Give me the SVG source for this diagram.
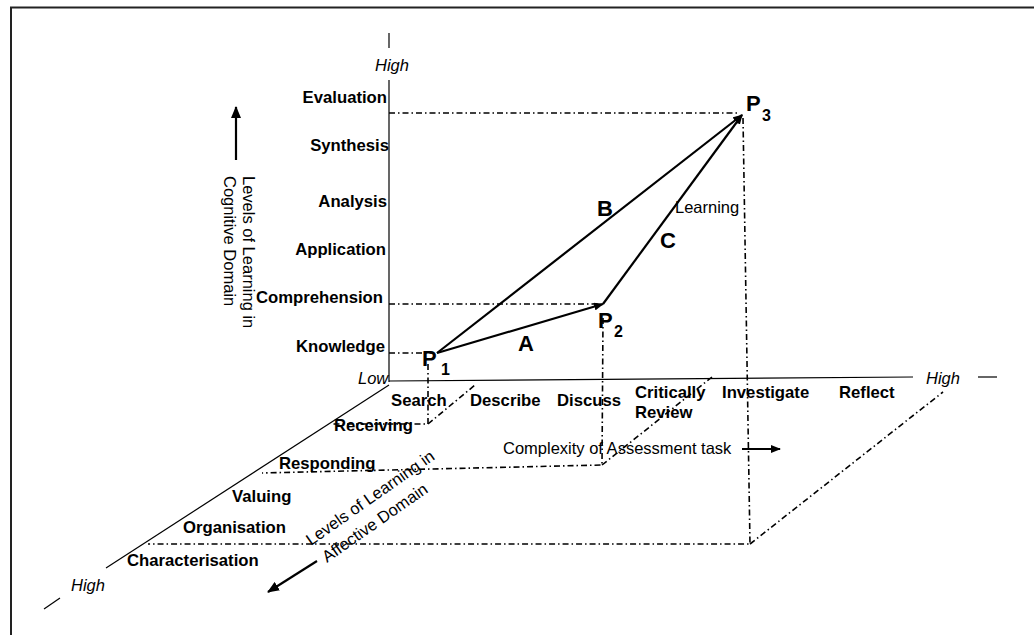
<svg xmlns="http://www.w3.org/2000/svg" width="1034" height="635" viewBox="0 0 1034 635">
<style>
.b{font-family:"Liberation Sans",Arial,sans-serif;font-weight:bold;font-size:16.7px;fill:#000}
.r{font-family:"Liberation Sans",Arial,sans-serif;font-size:16.5px;fill:#000}
.i{font-family:"Liberation Sans",Arial,sans-serif;font-style:italic;font-size:16.5px;fill:#000}
.p{font-family:"Liberation Sans",Arial,sans-serif;font-weight:bold;font-size:22px;fill:#000}
.s{font-family:"Liberation Sans",Arial,sans-serif;font-weight:bold;font-size:16px;fill:#000}
.ax{stroke:#000;stroke-width:1.2;fill:none}
.dd{stroke:#000;stroke-width:1.6;fill:none;stroke-dasharray:6 3 1.5 3}
.ar{stroke:#000;stroke-width:2.2;fill:none}
</style>
<defs>
<marker id="ah" markerWidth="10" markerHeight="8" refX="9" refY="4" orient="auto" markerUnits="userSpaceOnUse">
<path d="M0,0 L10,4 L0,8 Z" fill="#000"/>
</marker>
<marker id="ah2" markerWidth="12" markerHeight="10" refX="11" refY="5" orient="auto" markerUnits="userSpaceOnUse">
<path d="M0,0 L12,5 L0,10 Z" fill="#000"/>
</marker>
</defs>
<rect width="1034" height="635" fill="#fff"/>
<!-- frame -->
<path d="M11,635 L11,7.5 L1034,7.5" stroke="#222" stroke-width="2" fill="none"/>

<g id="axes">
<line class="ax" x1="389" y1="33" x2="389" y2="48"/>
<line class="ax" x1="389" y1="80" x2="389" y2="382"/>
<line class="ax" x1="389" y1="381" x2="913" y2="377"/>
<line class="ax" x1="978" y1="377" x2="997" y2="377"/>
<line class="ax" x1="389" y1="385" x2="106" y2="568"/>
<line class="ax" x1="60" y1="598" x2="44" y2="609"/>
<text class="i" x="375" y="71">High</text>
<text class="i" x="358" y="384">Low</text>
<text class="i" x="926" y="384">High</text>
<text class="i" x="71" y="591">High</text>
</g>

<g id="cognitive-labels" text-anchor="end">
<text class="b" x="387" y="103">Evaluation</text>
<text class="b" x="389" y="151">Synthesis</text>
<text class="b" x="387" y="207">Analysis</text>
<text class="b" x="386" y="255">Application</text>
<text class="b" x="383" y="303">Comprehension</text>
<text class="b" x="385" y="352">Knowledge</text>
</g>

<g id="cognitive-title">
<line x1="236" y1="160" x2="236" y2="107" stroke="#000" stroke-width="2.2" marker-end="url(#ah2)"/>
<text class="r" transform="translate(243,176) rotate(90)">Levels of Learning in</text>
<text class="r" transform="translate(224,176) rotate(90)">Cognitive Domain</text>
</g>

<g id="task-labels">
<text class="b" x="391" y="406">Search</text>
<text class="b" x="470" y="406">Describe</text>
<text class="b" x="557" y="406">Discuss</text>
<text class="b" x="635" y="398">Critically</text>
<text class="b" x="635" y="418">Review</text>
<text class="b" x="722" y="398">Investigate</text>
<text class="b" x="839" y="398">Reflect</text>
<text class="r" x="503" y="454">Complexity of Assessment task</text>
<line x1="742" y1="449" x2="780" y2="449" stroke="#000" stroke-width="2.2" marker-end="url(#ah)"/>
</g>

<g id="affective-labels">
<text class="b" x="334" y="431">Receiving</text>
<text class="b" x="279" y="469">Responding</text>
<text class="b" x="232" y="502">Valuing</text>
<text class="b" x="183" y="533">Organisation</text>
<text class="b" x="127" y="566">Characterisation</text>
<text class="r" transform="translate(311,546) rotate(-35)">Levels of Learning in</text>
<text class="r" transform="translate(327,563) rotate(-35)">Affective Domain</text>
<line x1="317" y1="561" x2="268" y2="592" stroke="#000" stroke-width="2.2" marker-end="url(#ah2)"/>
</g>

<g id="projections">
<path class="dd" d="M389,353 L432,353"/>
<path class="dd" d="M428,364 L428,424 L332,424"/>
<path class="dd" d="M428,424 L475,385"/>
<path class="dd" d="M389,304 L598,304"/>
<path class="dd" d="M603,318 L602,465 L262,473"/>
<path class="dd" d="M602,465 L712,377"/>
<path class="dd" d="M389,113 L738,113"/>
<path class="dd" d="M743,118 L750,544 L148,544"/>
<path class="dd" d="M750,544 L943,392"/>
</g>

<g id="connectors">
<line class="ar" x1="437" y1="353" x2="603" y2="304" marker-end="url(#ah)"/>
<line class="ar" x1="437" y1="353" x2="742" y2="115" marker-end="url(#ah)"/>
<line class="ar" x1="603" y1="304" x2="742" y2="115" marker-end="url(#ah)"/>
<text class="p" x="518" y="351">A</text>
<text class="p" x="597" y="216">B</text>
<text class="p" x="660" y="248">C</text>
<text class="r" x="675" y="213">Learning</text>
</g>

<g id="P1">
<text class="p" x="422" y="366">P</text>
<text class="s" x="441" y="375">1</text>
</g>
<g id="P2">
<text class="p" x="598" y="328">P</text>
<text class="s" x="614" y="337">2</text>
</g>
<g id="P3">
<text class="p" x="746" y="111">P</text>
<text class="s" x="762" y="121">3</text>
</g>
</svg>
